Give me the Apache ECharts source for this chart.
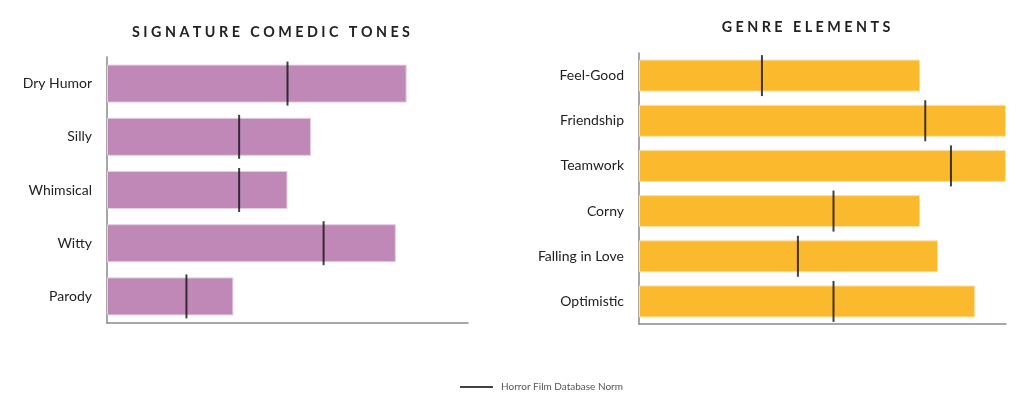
<!DOCTYPE html>
<html>
<head>
<meta charset="utf-8">
<script src="https://cdn.jsdelivr.net/npm/echarts@6/dist/echarts.min.js"></script>
<style>html,body{margin:0;padding:0;background:#fff}#c{width:1024px;height:401px}</style>
</head>
<body>
<div id="c"></div>
<script>
const toneCategories = ['Dry Humor', 'Silly', 'Whimsical', 'Witty', 'Parody'];
const toneValues = [83, 56.5, 50, 80, 35];
const toneNorms = [50, 36.6, 36.6, 60, 22];

const genreCategories = ['Feel-Good', 'Friendship', 'Teamwork', 'Corny', 'Falling in Love', 'Optimistic'];
const genreValues = [76.6, 100, 100, 76.6, 81.5, 91.6];
const genreNorms = [33.5, 78, 85, 53, 43.3, 53];

const normName = 'Horror Film Database Norm';
const FONT = 'Lato';

function spaced(s) {
  return s.split(' ').map(w => w.split('').join(' ')).join('   ');
}

const chart = echarts.init(document.getElementById('c'), null, {renderer: 'canvas'});
const axisLineStyle = {show: true, lineStyle: {color: '#8a8a8a', width: 1.5}};

chart.setOption({
  animation: false,
  textStyle: {fontFamily: FONT},
  title: [
    {text: spaced('SIGNATURE COMEDIC TONES'), left: 266, top: 20, textAlign: 'center',
     textStyle: {fontFamily: FONT, fontWeight: 'bold', fontSize: 14.3, color: '#222'}},
    {text: spaced('GENRE ELEMENTS'), left: 801, top: 15, textAlign: 'center',
     textStyle: {fontFamily: FONT, fontWeight: 'bold', fontSize: 14.3, color: '#222'}}
  ],
  legend: {
    data: [{name: normName, icon: 'rect'}],
    left: 460, top: 382, padding: 0,
    itemWidth: 33, itemHeight: 2, itemGap: 8,
    textStyle: {fontFamily: FONT, fontSize: 10, color: '#555', padding: [0, 0, 0, 3]}
  },
  grid: [
    {left: 107, right: 556, top: 57, bottom: 78},
    {left: 639, right: 18, top: 53, bottom: 77}
  ],
  xAxis: [
    {gridIndex: 0, type: 'value', min: 0, max: 100, axisLine: axisLineStyle, axisTick: {show: false},
     axisLabel: {show: false}, splitLine: {show: false}},
    {gridIndex: 1, type: 'value', min: 0, max: 100, axisLine: axisLineStyle, axisTick: {show: false},
     axisLabel: {show: false}, splitLine: {show: false}}
  ],
  yAxis: [
    {gridIndex: 0, type: 'category', data: toneCategories, inverse: true, axisLine: axisLineStyle,
     axisTick: {show: false}, axisLabel: {fontFamily: FONT, fontSize: 14, color: '#222', margin: 15}},
    {gridIndex: 1, type: 'category', data: genreCategories, inverse: true, axisLine: axisLineStyle,
     axisTick: {show: false}, axisLabel: {fontFamily: FONT, fontSize: 14, color: '#222', margin: 15}}
  ],
  series: [
    {type: 'bar', xAxisIndex: 0, yAxisIndex: 0, data: toneValues, barWidth: 38,
     itemStyle: {color: '#BF88B6', borderColor: '#E6CDE2', borderWidth: 1}, z: 2},
    {type: 'scatter', name: normName, xAxisIndex: 0, yAxisIndex: 0,
     data: toneNorms.map((v, i) => [v, i]), symbol: 'rect', symbolSize: [2, 44],
     itemStyle: {color: '#111'}, z: 5},
    {type: 'bar', xAxisIndex: 1, yAxisIndex: 1, data: genreValues, barWidth: 32,
     itemStyle: {color: '#FBB92E', borderColor: '#FDE3A8', borderWidth: 1}, z: 2},
    {type: 'scatter', name: normName, xAxisIndex: 1, yAxisIndex: 1,
     data: genreNorms.map((v, i) => [v, i]), symbol: 'rect', symbolSize: [2, 41],
     itemStyle: {color: '#111'}, z: 5}
  ]
});
</script>
</body>
</html>
